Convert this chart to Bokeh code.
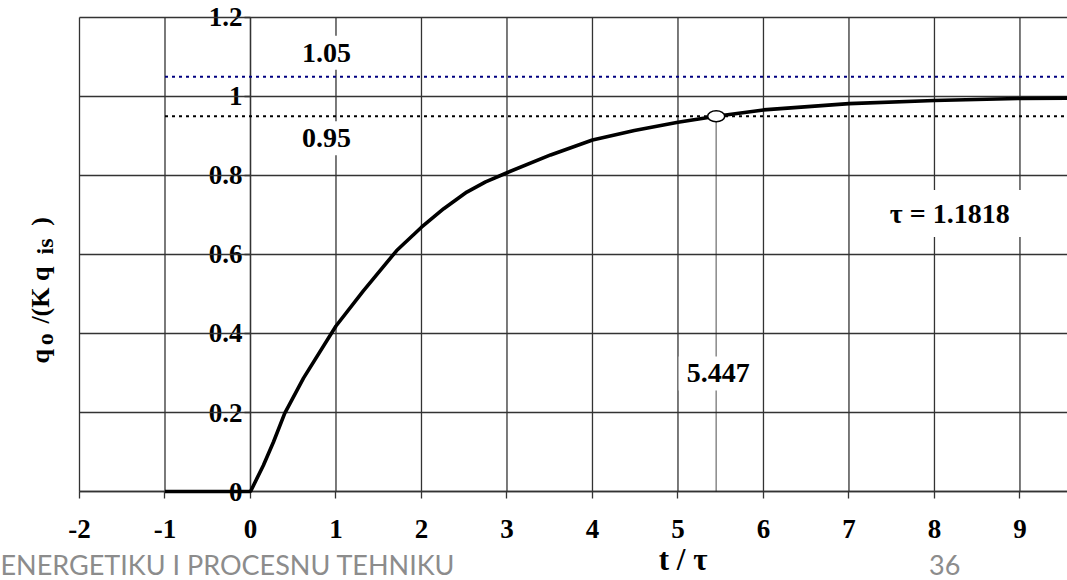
from bokeh.plotting import figure
from bokeh.models import Range1d, FixedTicker, Label
from bokeh.embed import file_html
from bokeh.resources import INLINE

# ---- data -------------------------------------------------------------
x_ticks = [-2, -1, 0, 1, 2, 3, 4, 5, 6, 7, 8, 9]
x_tick_labels = ["-2", "-1", "0", "1", "2", "3", "4", "5", "6", "7", "8", "9"]
y_ticks = [0, 0.2, 0.4, 0.6, 0.8, 1.0, 1.2]
y_tick_labels = ["0", "0.2", "0.4", "0.6", "0.8", "1", "1.2"]

t_curve = [-1, 0, 0.15, 0.27, 0.40, 0.62, 1.0, 1.32, 1.71, 2.0, 2.26, 2.53,
           2.75, 3.0, 3.51, 4.0, 4.49, 5.0, 5.447, 6.0, 7.0, 8.0, 9.0, 9.6]
q_curve = [0, 0, 0.066, 0.126, 0.198, 0.287, 0.419, 0.508, 0.61, 0.669, 0.716,
           0.758, 0.784, 0.807, 0.852, 0.89, 0.914, 0.935, 0.95, 0.966, 0.982,
           0.990, 0.995, 0.996]

t_cross = 5.447
q_low = 0.95
q_high = 1.05
t_band_start = -1
tau_value = 1.1818

x_axis_start, x_axis_end = -2, 9.556
y_axis_start, y_axis_end = 0, 1.2

# view window (includes the margins where titles sit)
view_x = (-2.924, 9.556)
view_y = (-0.2253, 1.2430)

# ---- figure -----------------------------------------------------------
p = figure(width=1067, height=580, output_backend="svg", toolbar_location=None,
           x_range=Range1d(*view_x), y_range=Range1d(*view_y),
           min_border=0)
p.outline_line_color = None
p.background_fill_color = "white"
p.border_fill_color = "white"
p.xgrid.visible = False
p.ygrid.visible = False

GRID = "#333333"
SERIF = "Liberation Serif"

p.xaxis.ticker = FixedTicker(ticks=x_ticks)
p.yaxis.ticker = FixedTicker(ticks=y_ticks)
p.xaxis.major_label_overrides = {v: s for v, s in zip(x_ticks, x_tick_labels)}
p.yaxis.major_label_overrides = {v: s for v, s in zip(y_ticks, y_tick_labels)}
p.xaxis.fixed_location = 0
p.yaxis.fixed_location = 0
p.xaxis.bounds = (x_axis_start, x_axis_end)
p.yaxis.bounds = (y_axis_start, y_axis_end)

for ax in (p.xaxis, p.yaxis):
    ax.axis_line_color = GRID
    ax.axis_line_width = 1.3
    ax.major_tick_line_color = GRID
    ax.major_tick_line_width = 1.3
    ax.major_tick_in = 0
    ax.minor_tick_line_color = None
    ax.major_label_text_font = SERIF
    ax.major_label_text_font_style = "bold"
    ax.major_label_text_font_size = "27px"
    ax.major_label_text_color = "black"
    ax.level = "underlay"

p.xaxis.major_tick_out = 7
p.xaxis.major_label_standoff = 21
p.yaxis.major_tick_out = 6
p.yaxis.major_label_standoff = 2

# grid lines drawn from the tick positions
p.segment(x0=x_ticks, y0=[y_axis_start] * len(x_ticks),
          x1=x_ticks, y1=[y_axis_end] * len(x_ticks),
          line_color=GRID, line_width=1.3)
p.segment(x0=[x_axis_start] * len(y_ticks), y0=y_ticks,
          x1=[x_axis_end] * len(y_ticks), y1=y_ticks,
          line_color=GRID, line_width=1.3)

# reference bands
p.segment(x0=[t_band_start], y0=[q_high], x1=[x_axis_end], y1=[q_high],
          line_color="#000080", line_width=2, line_dash="3 4")
p.segment(x0=[t_band_start], y0=[q_low], x1=[x_axis_end], y1=[q_low],
          line_color="black", line_width=2, line_dash="3 4")

# vertical marker line
p.segment(x0=[t_cross], y0=[y_axis_start], x1=[t_cross], y1=[q_low],
          line_color="#222222", line_width=1.6, line_dash="1 1")

# response curve
p.line(t_curve, q_curve, line_color="black", line_width=3.6)

# crossing point
p.ellipse(x=[t_cross], y=[q_low], width=17, height=11,
          width_units="screen", height_units="screen",
          fill_color="white", line_color="black", line_width=1.5)


def lab(x, y, text, size="28px", align="center", baseline="middle", **kw):
    l = Label(x=x, y=y, text=text, text_font=SERIF, text_font_style="bold",
              text_font_size=size, text_align=align, text_baseline=baseline,
              text_color="black", **kw)
    p.add_layout(l)
    return l


box = dict(background_fill_color="white", background_fill_alpha=1.0, padding=8)
lab(0.89, 1.111, f"{q_high:.2f}", **box)
lab(0.89, 0.894, f"{q_low:.2f}", **box)
lab(5.47, 0.299, f"{t_cross}", **box)
lab(8.22, 0.704, f"τ  = {tau_value}", **box)

# y-axis title with subscripts (rotated)
ang = 1.5708
lab(-2.454, 0.324, "q", size="26px", align="left", angle=ang)
lab(-2.400, 0.370, "o", size="24px", align="left", angle=ang)
lab(-2.454, 0.425, "/(K q", size="26px", align="left", angle=ang)
lab(-2.400, 0.600, "is", size="24px", align="left", angle=ang)
lab(-2.454, 0.673, ")", size="26px", align="left", angle=ang)

# x-axis title
lab(5.06, -0.172, "t / τ", size="31px")

# slide footer texts
p.add_layout(Label(x=-2.924, y=-0.185, text="ENERGETIKU I PROCESNU TEHNIKU",
                   text_font="Lato", text_font_size="27px", text_color="#8c8c8c",
                   text_align="left", text_baseline="middle"))
p.add_layout(Label(x=8.12, y=-0.185, text="36",
                   text_font="Lato", text_font_size="27px", text_color="#8c8c8c",
                   text_align="center", text_baseline="middle"))

open("out.html", "w").write(file_html(p, INLINE))
